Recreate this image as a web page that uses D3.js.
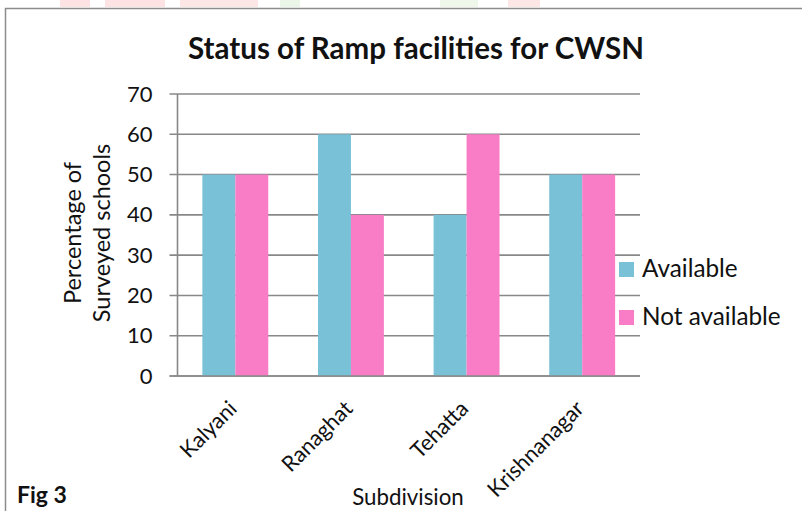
<!DOCTYPE html>
<html><head><meta charset="utf-8">
<script src="https://cdn.jsdelivr.net/npm/d3@7"></script>
<style>html,body{margin:0;padding:0;background:#fff;}svg{display:block;font-family:Lato,"Open Sans",sans-serif;}</style>
</head><body>
<svg id="c" width="802" height="511"></svg>
<script>
const categories = ["Kalyani", "Ranaghat", "Tehatta", "Krishnanagar"];
const seriesNames = ["Available", "Not available"];
const available = [50, 60, 40, 50];
const notAvailable = [50, 40, 60, 50];
const yTicks = [0, 10, 20, 30, 40, 50, 60, 70];
const colors = ["#78C1D6", "#F97DC6"];

const svg = d3.select("#c");
// faint watermark remnants at top
const wm = [[60,90,"#fbd0d0"],[105,165,"#fbd0d0"],[180,258,"#fcd6d6"],[280,300,"#e0f0d8"],[440,478,"#e4f2dc"],[508,540,"#fcd6d6"]];
svg.selectAll("rect.wm").data(wm).join("rect").attr("class","wm")
  .attr("x",d=>d[0]).attr("y",0).attr("width",d=>d[1]-d[0]).attr("height",7).attr("fill",d=>d[2]).attr("opacity",0.6);

// frame
svg.append("path").attr("d","M5.5,520 V8.5 H810").attr("fill","none").attr("stroke","#8c8c8c").attr("stroke-width",1.5);

const m = {left:177.5, right:640, top:94, bottom:376};
const x0 = d3.scaleBand().domain(categories).range([m.left, m.right]).paddingInner(0.43).paddingOuter(0.215);
const x1 = d3.scaleBand().domain(seriesNames).range([0, x0.bandwidth()]);
const y = d3.scaleLinear().domain([0, 70]).range([m.bottom, m.top]);

// gridlines
svg.append("g").selectAll("line").data(yTicks).join("line")
  .attr("x1", m.left - 8).attr("x2", m.right).attr("y1", d=>y(d)).attr("y2", d=>y(d))
  .attr("stroke", "#888").attr("stroke-width", 1.6);

// bars
const data = categories.map((c,i)=>({cat:c, vals:[available[i], notAvailable[i]]}));
const g = svg.append("g");
data.forEach(d=>{
  g.selectAll(null).data(d.vals).join("rect")
    .attr("x",(v,j)=>x0(d.cat)+x1(seriesNames[j]))
    .attr("y",v=>y(v))
    .attr("width",x1.bandwidth())
    .attr("height",v=>y(0)-y(v))
    .attr("fill",(v,j)=>colors[j]);
});

// axis lines
svg.append("line").attr("x1",m.left).attr("x2",m.left).attr("y1",m.top).attr("y2",m.bottom).attr("stroke","#888").attr("stroke-width",1.6);
svg.append("line").attr("x1",m.left-8).attr("x2",m.right).attr("y1",m.bottom).attr("y2",m.bottom).attr("stroke","#888").attr("stroke-width",1.6);

// y axis labels
const yAxis = d3.axisLeft(y).tickValues(yTicks).tickSize(0).tickPadding(25);
const ya = svg.append("g").attr("transform",`translate(${m.left},0)`).call(yAxis);
ya.select(".domain").remove();
ya.selectAll("text").attr("font-size",22).attr("fill","#111").attr("font-family","Lato, sans-serif");

// x labels
const xAxis = d3.axisBottom(x0).tickSize(0).tickPadding(0);
const xa = svg.append("g").attr("transform",`translate(0,${m.bottom})`).call(xAxis);
xa.select(".domain").remove();
xa.selectAll("text")
  .attr("font-size",21.8).attr("fill","#111").attr("font-family","Lato, sans-serif")
  .attr("text-anchor","end").attr("dy",null).attr("y",null)
  .attr("transform","translate(3,34) rotate(-45)");

// titles
svg.append("text").attr("x",416).attr("y",59).attr("text-anchor","middle")
  .attr("font-size",29.5).attr("font-weight","bold").attr("fill","#111").text("Status of Ramp facilities for CWSN");
const yt = svg.append("text").attr("transform","translate(0,233) rotate(-90)").attr("text-anchor","middle")
  .attr("font-size",23.5).attr("fill","#111");
yt.append("tspan").attr("x",0).attr("y",81).text("Percentage of");
yt.append("tspan").attr("x",0).attr("y",110).text("Surveyed schools");
svg.append("text").attr("x",408).attr("y",505).attr("text-anchor","middle").attr("font-size",22.3).attr("fill","#111").text("Subdivision");
svg.append("text").attr("x",17).attr("y",503).attr("font-size",23).attr("font-weight","bold").attr("fill","#111").text("Fig 3");

// legend
const lg = svg.append("g").selectAll("g").data(seriesNames).join("g")
  .attr("transform",(d,i)=>`translate(619,${262 + i*48})`);
lg.append("rect").attr("width",15).attr("height",15).attr("fill",(d,i)=>colors[i]);
lg.append("text").attr("x",23).attr("y",14.5).attr("font-size",24.3).attr("fill","#111").text(d=>d);
</script>
</body></html>
